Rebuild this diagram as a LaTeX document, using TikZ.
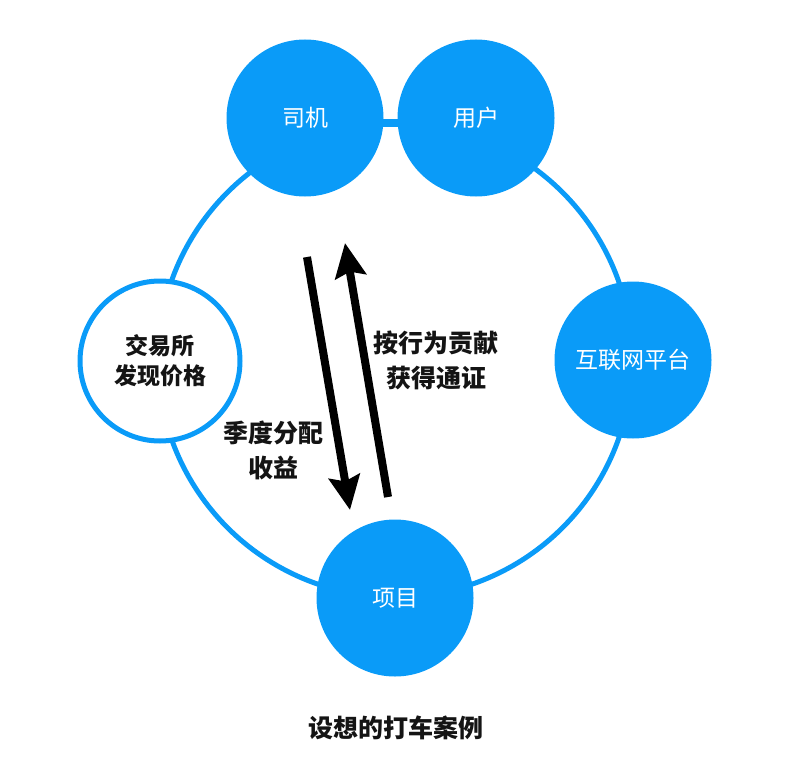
\documentclass[tikz,border=0pt]{standalone}
\usepackage{fontspec}
\setmainfont{Noto Sans CJK SC}
\usetikzlibrary{arrows.meta}

% Colours of the picture
\definecolor{r10g155b248}{RGB}{10,155,248}
\definecolor{r20g20b20}{RGB}{20,20,20}

\tikzset{
  fullball/.style={circle, fill=r10g155b248, inner sep=0pt, minimum size=157pt,
    text=white, font=\fontsize{23pt}{30pt}\selectfont},
  ringball/.style={circle, draw=r10g155b248, line width=5pt, fill=white, inner sep=0pt,
    minimum size=160pt, text=r20g20b20, align=center, font=\fontsize{23pt}{30pt}\selectfont\bfseries},
  flowlabel/.style={text=r20g20b20, align=center, font=\fontsize{25pt}{35pt}\selectfont\bfseries},
  flowarrow/.style={line width=8pt, draw=black, -{Stealth[length=34pt, width=31pt, inset=5pt]}}
}

\begin{document}
\begin{tikzpicture}[x=1pt, y=-1pt]
  \useasboundingbox (0,0) rectangle (800,757);

  % Drawing ring round the centre
  \draw [line width=5pt, r10g155b248] (395,360) circle (237);

  % Drawing link driver user
  \coordinate (linkleft) at (370,123);
  \coordinate (linkright) at (410,123);
  \draw [line width=8pt, r10g155b248] (linkleft) -- (linkright);

  % Placing the circles
  \node [fullball] (driver) at (305,118) {司机};
  \node [fullball] (user) at (476,118) {用户};
  \node [fullball] (platform) at (633,360) {互联网平台};
  \node [fullball] (project) at (395,598) {项目};
  \node [ringball] (exchange) at (160,361) {交易所\\发现价格};

  % Drawing arrow down
  \coordinate (downtail) at (307,257);
  \coordinate (downtip) at (350,510);
  \draw [flowarrow] (downtail) -- (downtip);

  % Drawing arrow up
  \coordinate (uptail) at (388,497);
  \coordinate (uptip) at (345,243);
  \draw [flowarrow] (uptail) -- (uptip);

  % Labels of the arrows
  \node [flowlabel] (contribute) at (436,360) {按行为贡献\\获得通证};
  \node [flowlabel] (dividend) at (273,450) {季度分配\\收益};

  % Title
  \node [flowlabel] (title) at (396,728) {设想的打车案例};
\end{tikzpicture}
\end{document}
